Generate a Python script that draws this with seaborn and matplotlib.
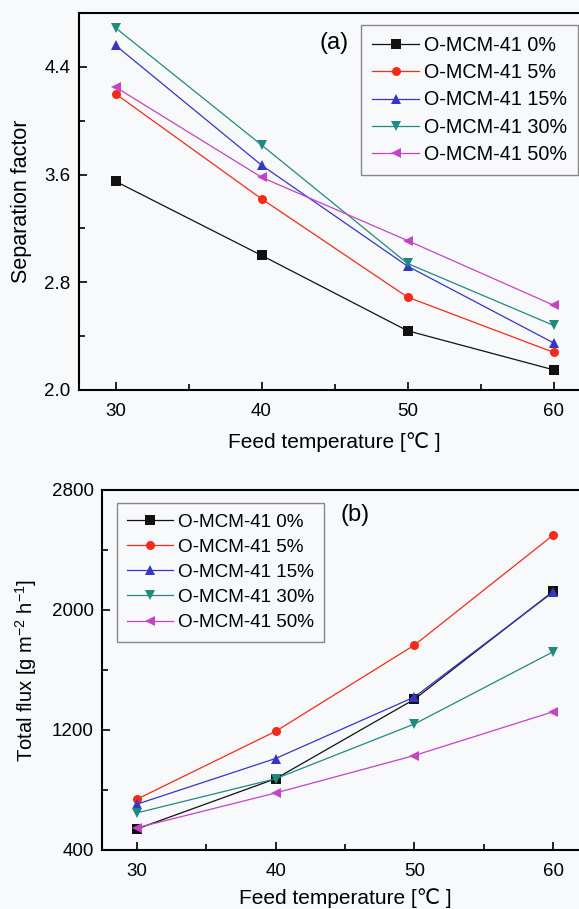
import matplotlib
matplotlib.use("Agg")
import matplotlib.pyplot as plt
import seaborn as sns
import pandas as pd
from matplotlib.ticker import MultipleLocator

# datos
temps = [30, 40, 50, 60]
labels = ["O-MCM-41 0%", "O-MCM-41 5%", "O-MCM-41 15%", "O-MCM-41 30%", "O-MCM-41 50%"]

sep_0 = [3.55, 3.00, 2.44, 2.15]
sep_5 = [4.20, 3.42, 2.69, 2.28]
sep_15 = [4.56, 3.67, 2.92, 2.35]
sep_30 = [4.69, 3.82, 2.94, 2.48]
sep_50 = [4.25, 3.58, 3.11, 2.63]

flux_0 = [540, 875, 1405, 2125]
flux_5 = [738, 1191, 1766, 2500]
flux_15 = [705, 1010, 1420, 2120]
flux_30 = [647, 875, 1240, 1722]
flux_50 = [548, 780, 1030, 1322]

colores = ["#111111", "#f52a1a", "#3535c8", "#1f8a80", "#c444c4"]
marcadores = ["s", "o", "^", "v", "<"]

bg = "#f8f9fb"
plt.rcParams['font.family'] = ['Liberation Sans', 'DejaVu Sans']
plt.rcParams['mathtext.default'] = 'regular'


def armar_df(series):
    filas = []
    for lab, vals in zip(labels, series):
        for t, v in zip(temps, vals):
            filas.append({"T": t, "val": v, "serie": lab})
    return pd.DataFrame(filas)


df_a = armar_df([sep_0, sep_5, sep_15, sep_30, sep_50])
df_b = armar_df([flux_0, flux_5, flux_15, flux_30, flux_50])

fig = plt.figure(figsize=(5.79, 9.09), dpi=100, facecolor=bg)
ax1 = fig.add_axes([79/579, 1-390/909, 511/579, 377/909])
ax2 = fig.add_axes([102/579, 1-850/909, 486/579, 360/909])

pal = dict(zip(labels, colores))
mk = dict(zip(labels, marcadores))

for ax, df, fs in [(ax1, df_a, 14.2), (ax2, df_b, 13.6)]:
    ax.set_facecolor(bg)
    sns.lineplot(data=df, x="T", y="val", hue="serie", style="serie",
                 palette=pal, markers=mk, dashes=False, ax=ax,
                 linewidth=0.9, markersize=6.5, markeredgewidth=0)
    ax.set_xlim(27.5, 62.5)
    ax.xaxis.set_major_locator(MultipleLocator(10))
    ax.xaxis.set_minor_locator(MultipleLocator(5))
    ax.tick_params(which='both', direction='in', labelsize=13.5, width=1.2,
                   top=False, right=False)
    ax.tick_params(which='major', length=6)
    ax.tick_params(which='minor', length=4)
    ax.tick_params(axis='x', pad=9)
    ax.tick_params(axis='y', pad=6)
    for s in ax.spines.values():
        s.set_linewidth(1.5)
    ax.legend(fontsize=fs, frameon=True, fancybox=False, edgecolor="#888888",
              facecolor=bg, framealpha=1, handlelength=2.4, handletextpad=0.25,
              labelspacing=0.42, borderpad=0.55, borderaxespad=0, numpoints=1)

ax1.set_ylim(2.0, 4.8)
ax1.yaxis.set_major_locator(MultipleLocator(0.8, offset=0.4))
ax1.yaxis.set_minor_locator(MultipleLocator(0.4))
ax1.yaxis.set_major_formatter(plt.FormatStrFormatter('%.1f'))
ax1.set_ylabel("Separation factor", fontsize=15.5, labelpad=9)
ax1.set_xlabel("Feed temperature [℃ ]", fontsize=15, labelpad=9)
ax1.text(0.5, 0.92, "(a)", transform=ax1.transAxes, fontsize=17, ha="center", va="center")
leg1 = ax1.get_legend()
leg1.set_loc("upper right")
leg1.set_bbox_to_anchor((0.977, 0.968), transform=ax1.transAxes)

ax2.set_ylim(400, 2800)
ax2.yaxis.set_major_locator(MultipleLocator(800, offset=400))
ax2.yaxis.set_minor_locator(MultipleLocator(400))
ax2.set_ylabel("Total flux [g m$^{-2}$ h$^{-1}$]", fontsize=14.5, labelpad=9)
ax2.set_xlabel("Feed temperature [℃ ]", fontsize=15, labelpad=6)
ax2.text(0.52, 0.93, "(b)", transform=ax2.transAxes, fontsize=17, ha="center", va="center")
leg2 = ax2.get_legend()
leg2.set_loc("upper left")
leg2.set_bbox_to_anchor((0.031, 0.964), transform=ax2.transAxes)

plt.savefig("out.png", dpi=100, facecolor=bg)
